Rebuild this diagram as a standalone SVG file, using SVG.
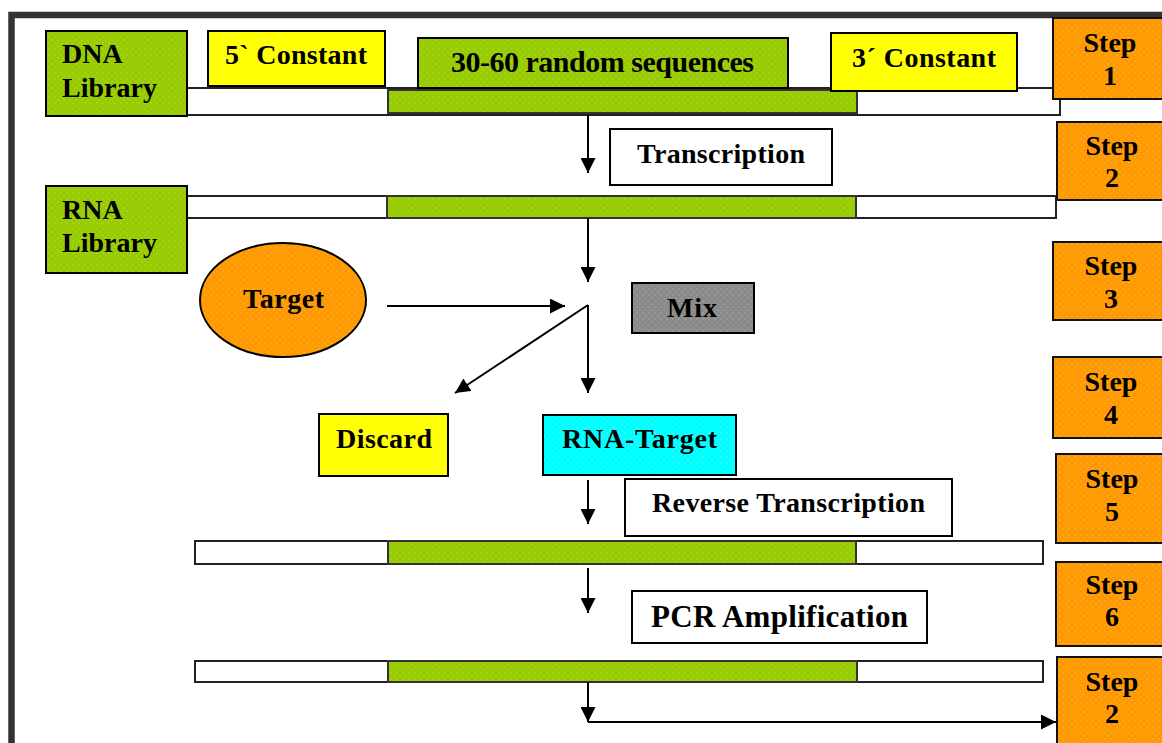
<svg xmlns="http://www.w3.org/2000/svg" width="1162" height="743" viewBox="0 0 1162 743">
<style>
text{font-family:"Liberation Serif","Times New Roman",serif;font-weight:bold;font-size:28px;fill:#000}
.box{stroke:#000;stroke-width:2}
.strand{fill:#fff;stroke:#222;stroke-width:2}
.seq{fill:url(#pg);stroke:#333;stroke-width:2}
.step{fill:url(#po);stroke:#111;stroke-width:2}
.stxt{text-anchor:middle}
.con{stroke:#000;stroke-width:2;fill:none}
.arr{marker-end:url(#ah)}
</style>
<defs>
<pattern id="pg" width="6" height="6" patternUnits="userSpaceOnUse"><rect width="6" height="6" fill="#99cc00"/><circle cx="1" cy="1" r="0.6" fill="#fff" opacity="0.45"/><circle cx="4" cy="4" r="0.6" fill="#fff" opacity="0.45"/></pattern>
<pattern id="py" width="6" height="6" patternUnits="userSpaceOnUse"><rect width="6" height="6" fill="#ffff00"/><circle cx="1" cy="1" r="0.6" fill="#fff" opacity="0.45"/><circle cx="4" cy="4" r="0.6" fill="#fff" opacity="0.45"/></pattern>
<pattern id="po" width="6" height="6" patternUnits="userSpaceOnUse"><rect width="6" height="6" fill="#ff9900"/><circle cx="1" cy="1" r="0.6" fill="#fff" opacity="0.45"/><circle cx="4" cy="4" r="0.6" fill="#fff" opacity="0.45"/></pattern>
<pattern id="pc" width="6" height="6" patternUnits="userSpaceOnUse"><rect width="6" height="6" fill="#00ffff"/><circle cx="1" cy="1" r="0.6" fill="#fff" opacity="0.45"/><circle cx="4" cy="4" r="0.6" fill="#fff" opacity="0.45"/></pattern>
<pattern id="pm" width="6" height="6" patternUnits="userSpaceOnUse"><rect width="6" height="6" fill="#8a8a8a"/><circle cx="1" cy="1" r="0.6" fill="#fff" opacity="0.4"/><circle cx="4" cy="4" r="0.6" fill="#fff" opacity="0.4"/></pattern>
<marker id="ah" markerUnits="userSpaceOnUse" markerWidth="16" markerHeight="15" refX="15" refY="7.5" orient="auto"><path d="M0,0 L15,7.5 L0,15 z" fill="#000"/></marker>
</defs>
<rect width="1162" height="743" fill="#fff"/>
<rect id="frame" x="11.5" y="15" width="1200" height="800" fill="none" stroke="#333" stroke-width="6.5"/>

<g id="strand1"><rect class="strand" x="187" y="88" width="873" height="27"/><rect class="seq" x="388" y="90" width="469" height="23"/></g>
<g id="strand2"><rect class="strand" x="187" y="196" width="869" height="22"/><rect class="seq" x="387" y="196" width="469" height="22"/></g>
<g id="strand3"><rect class="strand" x="195" y="541" width="848" height="23"/><rect class="seq" x="388" y="541" width="468" height="23"/></g>
<g id="strand4"><rect class="strand" x="195" y="661" width="848" height="21"/><rect class="seq" x="388" y="661" width="469" height="21"/></g>

<g id="dna-library"><rect class="box" x="46" y="31" width="141" height="85" fill="url(#pg)"/><text x="62" y="63">DNA</text><text x="62" y="97">Library</text></g>
<g id="const5"><rect class="box" x="208" y="31" width="177" height="55" fill="url(#py)"/><text x="225" y="64" textLength="142">5` Constant</text></g>
<g id="random"><rect class="box" x="418" y="38" width="370" height="50" fill="url(#pg)"/><text x="451" y="72" font-size="30" style="font-size:30px" textLength="303">30-60 random sequences</text></g>
<g id="const3"><rect class="box" x="831" y="33" width="186" height="58" fill="url(#py)"/><text x="852" y="67" textLength="144">3´ Constant</text></g>

<g id="transcription"><rect class="box" x="610" y="129" width="222" height="56" fill="#fff"/><text x="637" y="163" textLength="168">Transcription</text></g>
<g id="rna-library"><rect class="box" x="46" y="186" width="141" height="87" fill="url(#pg)"/><text x="62" y="219">RNA</text><text x="62" y="252">Library</text></g>
<g id="target"><ellipse class="box" cx="283" cy="300" rx="83" ry="57" fill="url(#po)"/><text x="243" y="308" textLength="81">Target</text></g>
<g id="mix"><rect class="box" x="632" y="283" width="122" height="50" fill="url(#pm)"/><text x="667" y="317" textLength="50">Mix</text></g>
<g id="discard"><rect class="box" x="319" y="414" width="129" height="62" fill="url(#py)"/><text x="336" y="448" textLength="96">Discard</text></g>
<g id="rna-target"><rect class="box" x="543" y="415" width="193" height="60" fill="url(#pc)"/><text x="562" y="448" textLength="155">RNA-Target</text></g>
<g id="reverse"><rect class="box" x="625" y="479" width="327" height="57" fill="#fff"/><text x="652" y="512" textLength="273">Reverse Transcription</text></g>
<g id="pcr"><rect class="box" x="632" y="591" width="295" height="52" fill="#fff"/><text x="651" y="627" style="font-size:31px" textLength="257">PCR Amplification</text></g>

<g id="step1"><rect class="step" x="1053" y="18" width="130" height="81"/><text class="stxt" x="1110" y="52">Step</text><text class="stxt" x="1110" y="85">1</text></g>
<g id="step2"><rect class="step" x="1057" y="122" width="130" height="78"/><text class="stxt" x="1112" y="155">Step</text><text class="stxt" x="1112" y="187">2</text></g>
<g id="step3"><rect class="step" x="1053" y="242" width="130" height="78"/><text class="stxt" x="1111" y="275">Step</text><text class="stxt" x="1111" y="308">3</text></g>
<g id="step4"><rect class="step" x="1053" y="357" width="130" height="81"/><text class="stxt" x="1111" y="391">Step</text><text class="stxt" x="1111" y="424">4</text></g>
<g id="step5"><rect class="step" x="1056" y="454" width="130" height="89"/><text class="stxt" x="1112" y="488">Step</text><text class="stxt" x="1112" y="521">5</text></g>
<g id="step6"><rect class="step" x="1056" y="562" width="130" height="84"/><text class="stxt" x="1112" y="594">Step</text><text class="stxt" x="1112" y="626">6</text></g>
<g id="step2b"><rect class="step" x="1057" y="657" width="130" height="100"/><text class="stxt" x="1112" y="691">Step</text><text class="stxt" x="1112" y="723">2</text></g>

<g id="connectors">
<line class="con arr" x1="588" y1="115" x2="588" y2="173"/>
<line class="con arr" x1="588" y1="218" x2="588" y2="282"/>
<line class="con arr" x1="387" y1="306" x2="565" y2="306"/>
<line class="con arr" x1="588" y1="305" x2="588" y2="393"/>
<line class="con arr" x1="588" y1="305" x2="455" y2="393"/>
<line class="con arr" x1="588" y1="480" x2="588" y2="524"/>
<line class="con arr" x1="588" y1="568" x2="588" y2="613"/>
<line class="con arr" x1="588" y1="682" x2="588" y2="722"/>
<line class="con arr" x1="588" y1="722" x2="1056" y2="722"/>
</g>
</svg>
